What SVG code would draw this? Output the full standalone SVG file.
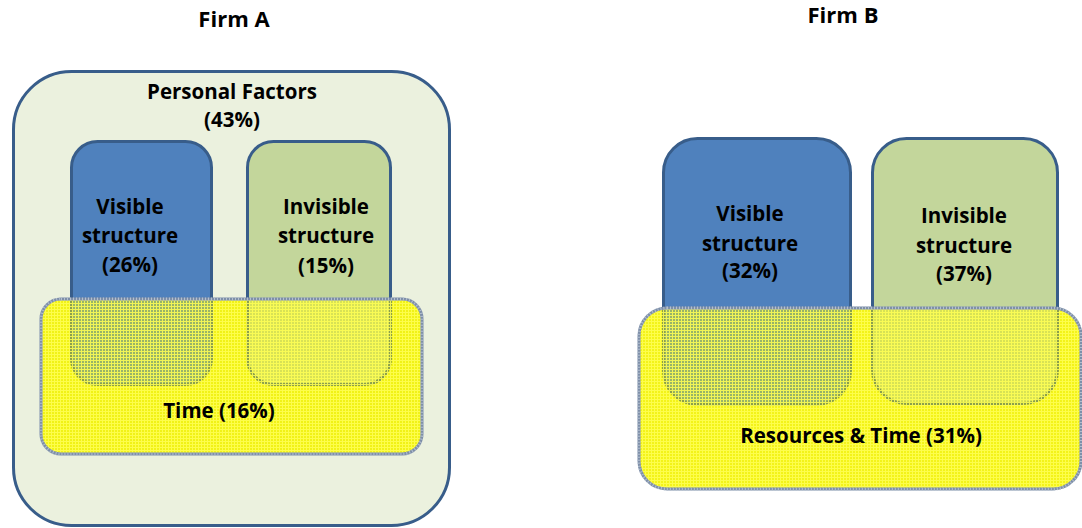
<svg xmlns="http://www.w3.org/2000/svg" width="1082" height="528" viewBox="0 0 1082 528">
<style>
text{font-family:"Open Sans","Liberation Sans",sans-serif;font-weight:bold;fill:#000;text-anchor:middle}
.t{font-size:20.5px}
.h{font-size:22px}
.outer{fill:#EBF1DE;stroke:#385D8A;stroke-width:3}
.blue{fill:#4F81BD;stroke:#385D8A;stroke-width:3}
.green{fill:#C3D69B;stroke:#385D8A;stroke-width:3}
.ybase{fill:#F2F200;fill-opacity:0.9}
.ygrid{fill:url(#grid)}
.yedge{fill:none;stroke:#7E8FA9;stroke-width:3}
.yedge2{fill:none;stroke:#B4C0CF;stroke-width:3;stroke-dasharray:1 2}
</style>
<defs>
<pattern id="grid" width="3" height="3" patternUnits="userSpaceOnUse">
<rect x="0" y="0" width="3" height="1" fill="#FFFF55" fill-opacity="0.85"/>
<rect x="0" y="1" width="1" height="2" fill="#FFFF55" fill-opacity="0.85"/>
</pattern>
<clipPath id="clipA"><rect x="41" y="299" width="381" height="155" rx="20"/></clipPath>
<clipPath id="clipB"><rect x="639" y="308" width="442" height="181" rx="28"/></clipPath>
</defs>

<g id="title-a"><text class="h" x="234" y="27">Firm A</text></g>
<g id="title-b"><text class="h" x="843" y="23">Firm B</text></g>

<g id="personal-factors">
<rect class="outer" x="13.5" y="71.5" width="436" height="454" rx="58"/>
<text class="t" x="232" y="99">Personal Factors</text>
<text class="t" x="232" y="127">(43%)</text>
</g>

<g id="visible-a">
<rect class="blue" x="71.5" y="141.5" width="140" height="243" rx="26"/>
<text class="t" x="130" y="214">Visible</text>
<text class="t" x="130" y="243">structure</text>
<text class="t" x="130" y="272">(26%)</text>
</g>

<g id="invisible-a">
<rect class="green" x="247.5" y="141.5" width="143" height="243" rx="26"/>
<text class="t" x="326" y="214">Invisible</text>
<text class="t" x="326" y="243">structure</text>
<text class="t" x="326" y="273">(15%)</text>
</g>

<g id="time-a">
<rect class="ybase" x="41" y="299" width="381" height="155" rx="20"/>
<g clip-path="url(#clipA)" opacity="0.5">
<rect class="blue" x="71.5" y="141.5" width="140" height="243" rx="26"/>
<rect class="green" x="247.5" y="141.5" width="143" height="243" rx="26"/>
</g>
<rect class="ygrid" x="41" y="299" width="381" height="155" rx="20"/>
<rect class="yedge" x="41" y="299" width="381" height="155" rx="20"/>
<rect class="yedge2" x="41" y="299" width="381" height="155" rx="20"/>
<text class="t" x="219" y="418">Time (16%)</text>
</g>

<g id="visible-b">
<rect class="blue" x="663.5" y="138.5" width="187" height="266" rx="34"/>
<text class="t" x="750" y="221">Visible</text>
<text class="t" x="750" y="251">structure</text>
<text class="t" x="750" y="278">(32%)</text>
</g>

<g id="invisible-b">
<rect class="green" x="872.5" y="138.5" width="185" height="265" rx="34"/>
<text class="t" x="964" y="223">Invisible</text>
<text class="t" x="964" y="253">structure</text>
<text class="t" x="964" y="281">(37%)</text>
</g>

<g id="resources-time-b">
<rect class="ybase" x="639" y="308" width="442" height="181" rx="28"/>
<g clip-path="url(#clipB)" opacity="0.5">
<rect class="blue" x="663.5" y="138.5" width="187" height="266" rx="34"/>
<rect class="green" x="872.5" y="138.5" width="185" height="265" rx="34"/>
</g>
<rect class="ygrid" x="639" y="308" width="442" height="181" rx="28"/>
<rect class="yedge" x="639" y="308" width="442" height="181" rx="28"/>
<rect class="yedge2" x="639" y="308" width="442" height="181" rx="28"/>
<text class="t" x="861" y="443">Resources &amp; Time (31%)</text>
</g>

<g id="connectors"></g>
</svg>
